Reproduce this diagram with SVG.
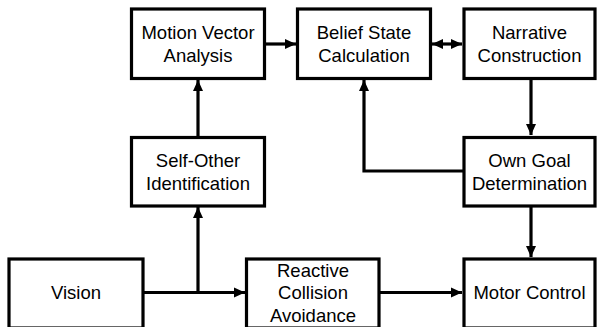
<svg xmlns="http://www.w3.org/2000/svg" width="597" height="327" viewBox="0 0 597 327">
<style>
.box{fill:#fff;stroke:#000;stroke-width:3.2}
.lbl{font-family:"Liberation Sans",Arial,sans-serif;font-size:18.5px;fill:#000;text-anchor:middle}
.edge{fill:none;stroke:#000;stroke-width:3.2}
</style>
<defs>
<marker id="ah" markerUnits="userSpaceOnUse" markerWidth="12" markerHeight="12" viewBox="0 0 12 12" refX="11" refY="6" orient="auto-start-reverse">
<path d="M0,1 L11,6 L0,11 Z" fill="#000"/>
</marker>
</defs>
<rect width="597" height="327" fill="#fff"/>
<g id="connectors">
<line class="edge" x1="265" y1="44" x2="296" y2="44" marker-end="url(#ah)"/>
<line class="edge" x1="432" y1="44" x2="462" y2="44" marker-start="url(#ah)" marker-end="url(#ah)"/>
<line class="edge" x1="531" y1="79" x2="531" y2="135" marker-end="url(#ah)"/>
<polyline class="edge" points="463,171 364,171 364,80" marker-end="url(#ah)"/>
<line class="edge" x1="531" y1="206" x2="531" y2="257" marker-end="url(#ah)"/>
<line class="edge" x1="198" y1="137" x2="198" y2="80" marker-end="url(#ah)"/>
<line class="edge" x1="143" y1="292.5" x2="245" y2="292.5" marker-end="url(#ah)"/>
<line class="edge" x1="198" y1="292.5" x2="198" y2="207" marker-end="url(#ah)"/>
<line class="edge" x1="379" y1="292.5" x2="462" y2="292.5" marker-end="url(#ah)"/>
</g>
<g id="motion-vector">
<rect class="box" x="131.5" y="9" width="133" height="69.5"/>
<text class="lbl" x="198" y="39">Motion Vector</text>
<text class="lbl" x="198" y="62">Analysis</text>
</g>
<g id="belief-state">
<rect class="box" x="297.5" y="9" width="133" height="69.5"/>
<text class="lbl" x="364" y="39">Belief State</text>
<text class="lbl" x="364" y="62">Calculation</text>
</g>
<g id="narrative">
<rect class="box" x="464" y="9" width="131" height="69.5"/>
<text class="lbl" x="529.5" y="39">Narrative</text>
<text class="lbl" x="529.5" y="62">Construction</text>
</g>
<g id="self-other">
<rect class="box" x="131.5" y="137.5" width="133" height="68.5"/>
<text class="lbl" x="198" y="167">Self-Other</text>
<text class="lbl" x="198" y="190">Identification</text>
</g>
<g id="own-goal">
<rect class="box" x="464" y="137.5" width="131" height="68.5"/>
<text class="lbl" x="529.5" y="167">Own Goal</text>
<text class="lbl" x="529.5" y="190">Determination</text>
</g>
<g id="vision">
<rect class="box" x="9" y="259" width="134" height="69"/>
<text class="lbl" x="76" y="299">Vision</text>
</g>
<g id="reactive">
<rect class="box" x="246.5" y="259" width="132.5" height="69"/>
<text class="lbl" x="313" y="277">Reactive</text>
<text class="lbl" x="313" y="299">Collision</text>
<text class="lbl" x="313" y="322">Avoidance</text>
</g>
<g id="motor-control">
<rect class="box" x="464" y="259" width="131" height="69"/>
<text class="lbl" x="529.5" y="299">Motor Control</text>
</g>
</svg>
